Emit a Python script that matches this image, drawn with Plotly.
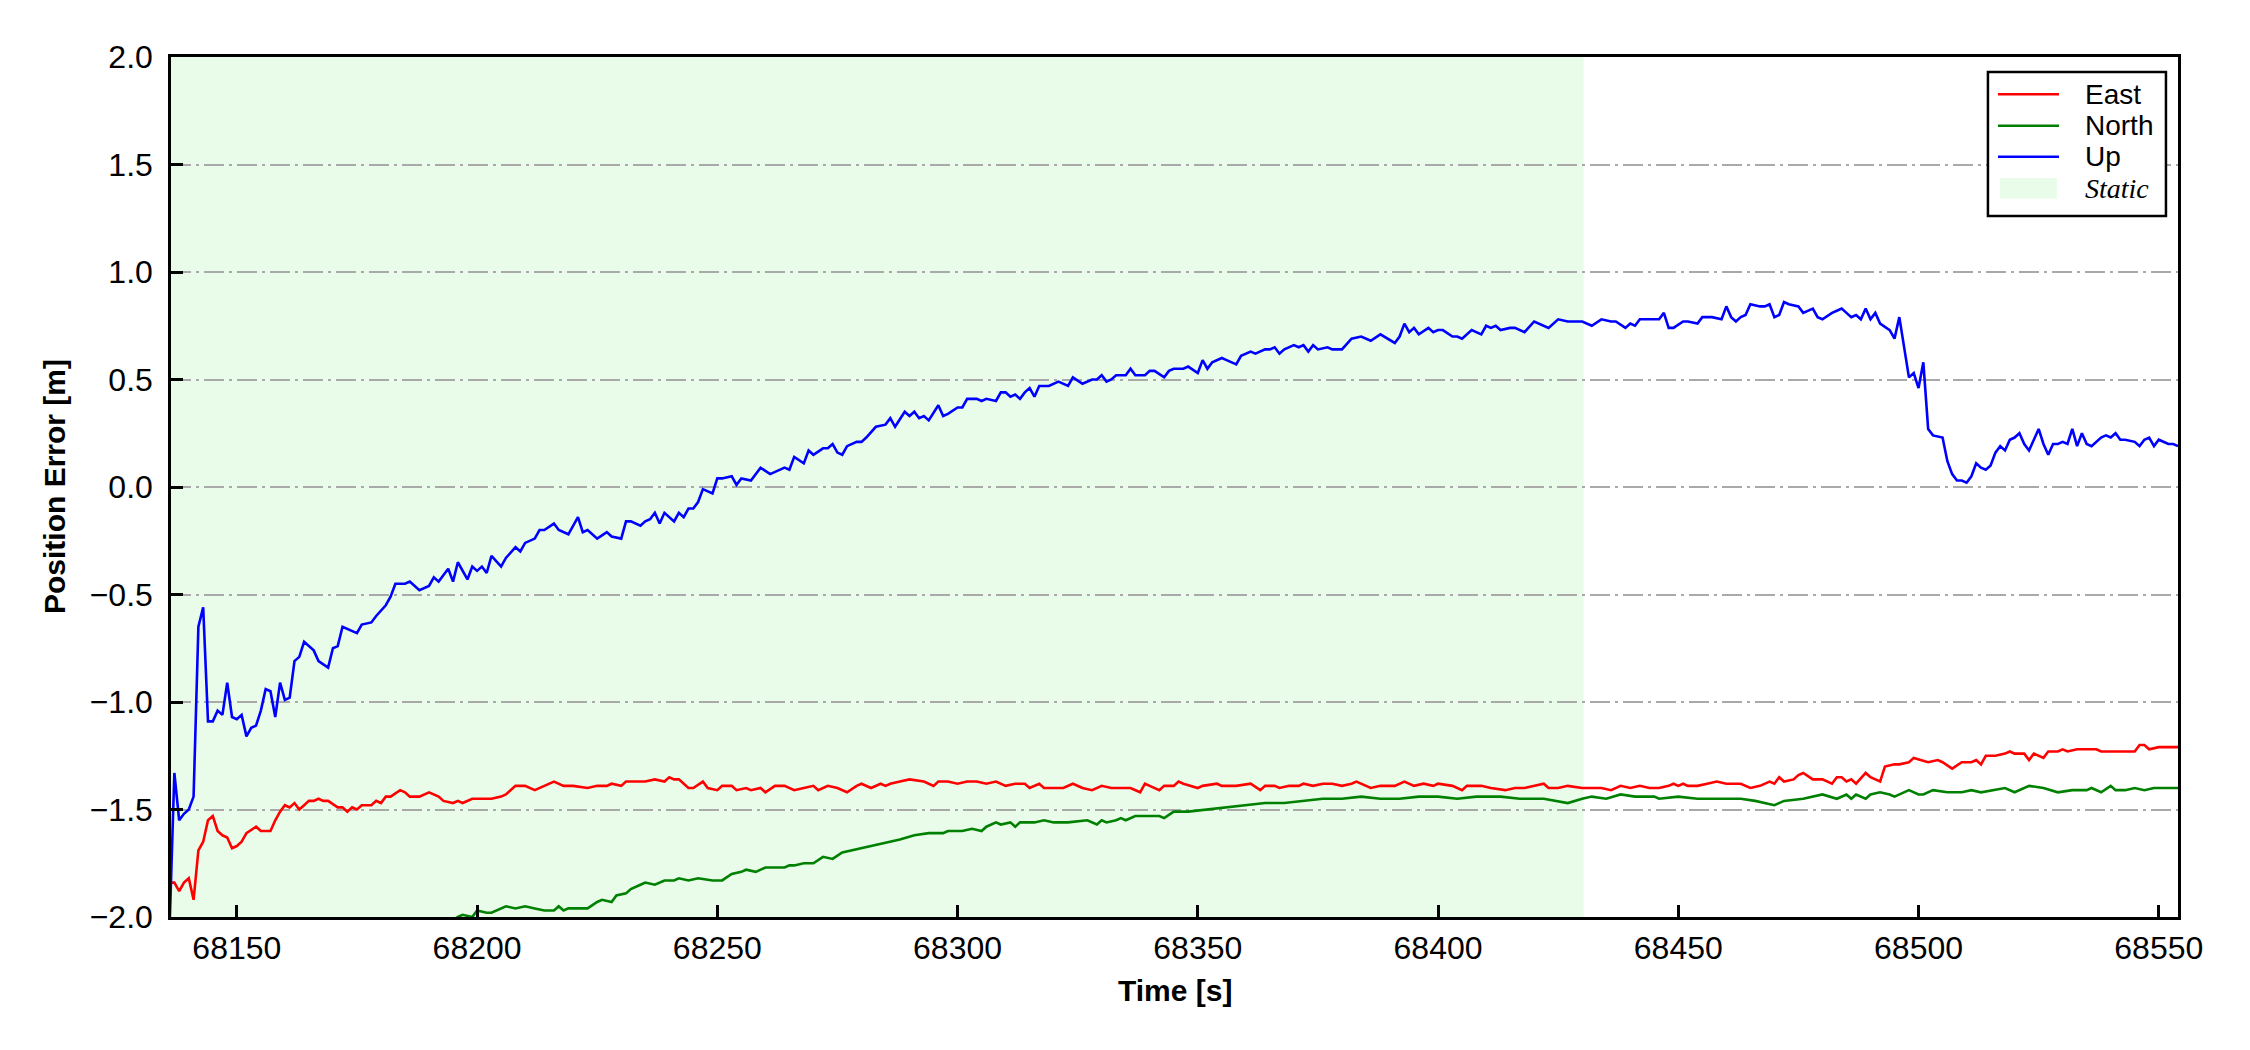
import plotly.graph_objects as go

# ─── Data (time [s], error [m]) ──────────────────────────────────────────────

UP = [
    (68136, -2.05), (68137, -1.33), (68138, -1.55), (68139, -1.52), (68140, -1.50),
    (68141, -1.44), (68142, -0.65), (68143, -0.56), (68144, -1.09), (68145, -1.09),
    (68146, -1.04), (68147, -1.06), (68148, -0.91), (68149, -1.07), (68150, -1.08),
    (68151, -1.06), (68152, -1.16), (68153, -1.12), (68154, -1.11), (68155, -1.04),
    (68156, -0.94), (68157, -0.95), (68158, -1.07), (68159, -0.91), (68160, -0.99),
    (68161, -0.98), (68162, -0.81), (68163, -0.79), (68164, -0.72), (68166, -0.76),
    (68167, -0.81), (68169, -0.84), (68170, -0.75), (68171, -0.74), (68172, -0.65),
    (68173, -0.66), (68175, -0.68), (68176, -0.64), (68178, -0.63), (68179, -0.60),
    (68181, -0.55), (68182, -0.51), (68183, -0.45), (68185, -0.45), (68186, -0.44),
    (68188, -0.48), (68190, -0.46), (68191, -0.42), (68192, -0.44), (68194, -0.38),
    (68195, -0.44), (68196, -0.35), (68198, -0.43), (68199, -0.37), (68200, -0.39),
    (68201, -0.37), (68202, -0.40), (68203, -0.32), (68205, -0.37), (68206, -0.33),
    (68208, -0.28), (68209, -0.30), (68210, -0.26), (68212, -0.24), (68213, -0.20),
    (68214, -0.20), (68216, -0.17), (68217, -0.20), (68219, -0.22), (68221, -0.14),
    (68222, -0.21), (68223, -0.20), (68225, -0.24), (68227, -0.21), (68228, -0.23),
    (68230, -0.24), (68231, -0.16), (68232, -0.16), (68234, -0.18), (68235, -0.16),
    (68236, -0.15), (68237, -0.12), (68238, -0.17), (68239, -0.12), (68241, -0.16),
    (68242, -0.12), (68243, -0.14), (68244, -0.10), (68245, -0.10), (68246, -0.07),
    (68247, -0.01), (68249, -0.03), (68250, 0.04), (68251, 0.04), (68253, 0.05),
    (68254, 0.01), (68255, 0.04), (68257, 0.03), (68259, 0.09), (68261, 0.06),
    (68262, 0.07), (68264, 0.09), (68265, 0.08), (68266, 0.14), (68268, 0.11),
    (68269, 0.17), (68270, 0.15), (68272, 0.18), (68273, 0.18), (68274, 0.20),
    (68275, 0.16), (68276, 0.15), (68277, 0.19), (68279, 0.21), (68280, 0.21),
    (68281, 0.23), (68283, 0.28), (68285, 0.29), (68286, 0.32), (68287, 0.28),
    (68289, 0.35), (68290, 0.33), (68291, 0.35), (68292, 0.32), (68293, 0.33),
    (68294, 0.31), (68296, 0.38), (68297, 0.33), (68298, 0.34), (68300, 0.37),
    (68301, 0.37), (68302, 0.41), (68304, 0.41), (68305, 0.40), (68306, 0.41),
    (68308, 0.40), (68309, 0.44), (68310, 0.44), (68311, 0.42), (68312, 0.43),
    (68313, 0.41), (68314, 0.44), (68315, 0.46), (68316, 0.42), (68317, 0.47),
    (68319, 0.47), (68321, 0.49), (68322, 0.48), (68323, 0.47), (68324, 0.51),
    (68326, 0.48), (68328, 0.50), (68329, 0.50), (68330, 0.52), (68331, 0.49),
    (68332, 0.50), (68333, 0.52), (68335, 0.52), (68336, 0.55), (68337, 0.52),
    (68338, 0.52), (68339, 0.52), (68340, 0.54), (68341, 0.54), (68343, 0.51),
    (68344, 0.54), (68345, 0.55), (68346, 0.55), (68347, 0.55), (68348, 0.56),
    (68350, 0.53), (68351, 0.59), (68352, 0.55), (68353, 0.58), (68355, 0.60),
    (68356, 0.59), (68358, 0.57), (68359, 0.61), (68360, 0.62), (68361, 0.63),
    (68362, 0.62), (68364, 0.64), (68365, 0.64), (68366, 0.65), (68367, 0.62),
    (68368, 0.64), (68370, 0.66), (68371, 0.65), (68372, 0.66), (68373, 0.63),
    (68374, 0.66), (68375, 0.64), (68377, 0.65), (68378, 0.64), (68380, 0.64),
    (68382, 0.69), (68384, 0.70), (68386, 0.68), (68388, 0.71), (68391, 0.67),
    (68392, 0.70), (68393, 0.76), (68394, 0.72), (68395, 0.74), (68396, 0.71),
    (68398, 0.74), (68399, 0.72), (68400, 0.73), (68401, 0.73), (68403, 0.70),
    (68404, 0.70), (68405, 0.69), (68407, 0.73), (68409, 0.71), (68410, 0.75),
    (68411, 0.74), (68412, 0.75), (68413, 0.73), (68415, 0.74), (68416, 0.74),
    (68418, 0.72), (68420, 0.77), (68423, 0.74), (68425, 0.78), (68427, 0.77),
    (68428, 0.77), (68430, 0.77), (68432, 0.75), (68434, 0.78), (68436, 0.77),
    (68437, 0.77), (68439, 0.74), (68440, 0.76), (68441, 0.75), (68442, 0.78),
    (68444, 0.78), (68446, 0.78), (68447, 0.81), (68448, 0.74), (68449, 0.74),
    (68451, 0.77), (68452, 0.77), (68454, 0.76), (68455, 0.79), (68457, 0.79),
    (68459, 0.78), (68460, 0.84), (68461, 0.79), (68462, 0.77), (68463, 0.79),
    (68464, 0.80), (68465, 0.85), (68467, 0.84), (68468, 0.84), (68469, 0.85),
    (68470, 0.79), (68471, 0.80), (68472, 0.86), (68473, 0.85), (68475, 0.84),
    (68476, 0.81), (68478, 0.83), (68479, 0.79), (68480, 0.78), (68482, 0.81),
    (68483, 0.82), (68484, 0.83), (68485, 0.81), (68486, 0.79), (68487, 0.80),
    (68488, 0.78), (68489, 0.83), (68490, 0.78), (68491, 0.81), (68492, 0.76),
    (68494, 0.73), (68495, 0.69), (68496, 0.79), (68497, 0.65), (68498, 0.51),
    (68499, 0.53), (68500, 0.46), (68501, 0.58), (68502, 0.27), (68503, 0.24),
    (68505, 0.23), (68506, 0.12), (68507, 0.06), (68508, 0.03), (68509, 0.03),
    (68510, 0.02), (68511, 0.05), (68512, 0.11), (68513, 0.09), (68514, 0.08),
    (68515, 0.10), (68516, 0.16), (68517, 0.19), (68518, 0.17), (68519, 0.22),
    (68520, 0.23), (68521, 0.25), (68522, 0.20), (68523, 0.17), (68524, 0.22),
    (68525, 0.27), (68526, 0.20), (68527, 0.15), (68528, 0.20), (68529, 0.20),
    (68530, 0.21), (68531, 0.20), (68532, 0.27), (68533, 0.19), (68534, 0.25),
    (68535, 0.20), (68536, 0.19), (68538, 0.23), (68539, 0.24), (68540, 0.23),
    (68541, 0.25), (68542, 0.22), (68543, 0.22), (68545, 0.21), (68546, 0.19),
    (68547, 0.22), (68548, 0.23), (68549, 0.19), (68550, 0.22), (68552, 0.20),
    (68553, 0.20), (68554, 0.19),
]

EAST = [
    (68136, -1.84), (68137, -1.84), (68138, -1.88), (68139, -1.84), (68140, -1.82),
    (68141, -1.92), (68142, -1.69), (68143, -1.65), (68144, -1.55), (68145, -1.53),
    (68146, -1.60), (68147, -1.62), (68148, -1.63), (68149, -1.68), (68150, -1.67),
    (68151, -1.65), (68152, -1.61), (68154, -1.58), (68155, -1.60), (68157, -1.60),
    (68158, -1.55), (68159, -1.51), (68160, -1.48), (68161, -1.49), (68162, -1.47),
    (68163, -1.50), (68164, -1.48), (68165, -1.46), (68166, -1.46), (68167, -1.45),
    (68168, -1.46), (68169, -1.46), (68171, -1.49), (68172, -1.49), (68173, -1.51),
    (68174, -1.49), (68175, -1.50), (68176, -1.48), (68178, -1.48), (68179, -1.46),
    (68180, -1.47), (68181, -1.44), (68182, -1.44), (68184, -1.41), (68185, -1.42),
    (68186, -1.44), (68188, -1.44), (68190, -1.42), (68192, -1.44), (68193, -1.46),
    (68195, -1.47), (68196, -1.46), (68197, -1.47), (68199, -1.45), (68202, -1.45),
    (68203, -1.45), (68205, -1.44), (68206, -1.43), (68208, -1.39), (68210, -1.39),
    (68212, -1.41), (68214, -1.39), (68216, -1.37), (68218, -1.39), (68220, -1.39),
    (68223, -1.40), (68225, -1.39), (68227, -1.39), (68228, -1.38), (68230, -1.39),
    (68231, -1.37), (68232, -1.37), (68235, -1.37), (68237, -1.36), (68239, -1.37),
    (68240, -1.35), (68241, -1.36), (68242, -1.36), (68244, -1.40), (68245, -1.40),
    (68247, -1.37), (68248, -1.40), (68250, -1.41), (68251, -1.39), (68253, -1.39),
    (68254, -1.41), (68256, -1.40), (68257, -1.41), (68259, -1.40), (68260, -1.42),
    (68262, -1.39), (68264, -1.39), (68266, -1.41), (68268, -1.40), (68270, -1.39),
    (68271, -1.41), (68273, -1.39), (68275, -1.40), (68276, -1.41), (68277, -1.42),
    (68279, -1.39), (68280, -1.38), (68282, -1.40), (68284, -1.38), (68285, -1.39),
    (68286, -1.38), (68288, -1.37), (68290, -1.36), (68293, -1.37), (68295, -1.39),
    (68296, -1.37), (68298, -1.37), (68300, -1.38), (68302, -1.37), (68304, -1.37),
    (68306, -1.38), (68308, -1.37), (68310, -1.39), (68312, -1.38), (68314, -1.38),
    (68315, -1.40), (68317, -1.38), (68318, -1.40), (68320, -1.40), (68322, -1.40),
    (68324, -1.38), (68326, -1.40), (68328, -1.41), (68330, -1.39), (68332, -1.40),
    (68334, -1.40), (68336, -1.40), (68338, -1.42), (68339, -1.38), (68340, -1.39),
    (68342, -1.41), (68343, -1.39), (68345, -1.39), (68346, -1.37), (68347, -1.38),
    (68350, -1.40), (68351, -1.39), (68354, -1.38), (68355, -1.39), (68358, -1.39),
    (68361, -1.38), (68363, -1.41), (68364, -1.39), (68366, -1.39), (68367, -1.40),
    (68369, -1.39), (68371, -1.39), (68372, -1.38), (68374, -1.39), (68376, -1.38),
    (68378, -1.38), (68380, -1.39), (68382, -1.38), (68383, -1.37), (68386, -1.40),
    (68388, -1.39), (68391, -1.39), (68393, -1.37), (68395, -1.39), (68397, -1.38),
    (68399, -1.39), (68400, -1.38), (68403, -1.39), (68405, -1.41), (68406, -1.39),
    (68409, -1.39), (68411, -1.40), (68414, -1.41), (68416, -1.40), (68418, -1.40),
    (68420, -1.39), (68422, -1.38), (68423, -1.40), (68425, -1.40), (68427, -1.39),
    (68430, -1.40), (68432, -1.40), (68434, -1.40), (68436, -1.41), (68438, -1.39),
    (68440, -1.40), (68442, -1.39), (68444, -1.40), (68446, -1.40), (68448, -1.39),
    (68449, -1.38), (68450, -1.39), (68451, -1.38), (68452, -1.39), (68454, -1.39),
    (68456, -1.38), (68458, -1.37), (68460, -1.38), (68463, -1.38), (68465, -1.40),
    (68467, -1.39), (68469, -1.37), (68470, -1.38), (68471, -1.35), (68472, -1.37),
    (68474, -1.36), (68475, -1.34), (68476, -1.33), (68478, -1.36), (68480, -1.36),
    (68482, -1.38), (68483, -1.35), (68484, -1.35), (68485, -1.37), (68486, -1.36),
    (68487, -1.38), (68489, -1.33), (68490, -1.35), (68491, -1.36), (68492, -1.37),
    (68493, -1.30), (68495, -1.29), (68496, -1.29), (68498, -1.28), (68499, -1.26),
    (68502, -1.28), (68504, -1.27), (68505, -1.28), (68507, -1.31), (68509, -1.28),
    (68511, -1.28), (68512, -1.27), (68513, -1.29), (68514, -1.25), (68516, -1.25),
    (68518, -1.24), (68519, -1.23), (68520, -1.24), (68522, -1.24), (68523, -1.27),
    (68524, -1.24), (68526, -1.26), (68527, -1.23), (68529, -1.23), (68530, -1.22),
    (68531, -1.23), (68533, -1.22), (68535, -1.22), (68537, -1.22), (68538, -1.23),
    (68540, -1.23), (68542, -1.23), (68545, -1.23), (68546, -1.20), (68547, -1.20),
    (68548, -1.22), (68550, -1.21), (68552, -1.21), (68554, -1.21),
]

NORTH = [
    (68194, -2.03), (68196, -2.00), (68197, -1.99), (68199, -2.00), (68200, -1.97),
    (68202, -1.98), (68203, -1.98), (68204, -1.97), (68206, -1.95), (68208, -1.96),
    (68210, -1.95), (68212, -1.96), (68214, -1.97), (68216, -1.97), (68217, -1.95),
    (68218, -1.97), (68219, -1.96), (68221, -1.96), (68223, -1.96), (68225, -1.93),
    (68226, -1.92), (68228, -1.93), (68229, -1.90), (68231, -1.89), (68232, -1.87),
    (68234, -1.85), (68235, -1.84), (68237, -1.85), (68239, -1.83), (68241, -1.83),
    (68242, -1.82), (68244, -1.83), (68246, -1.82), (68249, -1.83), (68251, -1.83),
    (68253, -1.80), (68255, -1.79), (68256, -1.78), (68258, -1.79), (68260, -1.77),
    (68262, -1.77), (68264, -1.77), (68265, -1.76), (68266, -1.76), (68268, -1.75),
    (68270, -1.75), (68272, -1.72), (68274, -1.73), (68276, -1.70), (68278, -1.69),
    (68280, -1.68), (68282, -1.67), (68284, -1.66), (68286, -1.65), (68288, -1.64),
    (68291, -1.62), (68294, -1.61), (68297, -1.61), (68298, -1.60), (68301, -1.60),
    (68303, -1.59), (68305, -1.60), (68306, -1.58), (68308, -1.56), (68309, -1.57),
    (68311, -1.56), (68312, -1.58), (68313, -1.56), (68316, -1.56), (68318, -1.55),
    (68320, -1.56), (68323, -1.56), (68326, -1.55), (68327, -1.55), (68329, -1.57),
    (68330, -1.55), (68331, -1.56), (68333, -1.55), (68334, -1.54), (68335, -1.55),
    (68337, -1.53), (68338, -1.53), (68340, -1.53), (68342, -1.53), (68343, -1.54),
    (68345, -1.51), (68348, -1.51), (68352, -1.50), (68356, -1.49), (68360, -1.48),
    (68364, -1.47), (68368, -1.47), (68372, -1.46), (68376, -1.45), (68380, -1.45),
    (68384, -1.44), (68388, -1.45), (68392, -1.45), (68396, -1.44), (68400, -1.44),
    (68404, -1.45), (68408, -1.44), (68413, -1.44), (68417, -1.45), (68422, -1.45),
    (68427, -1.47), (68430, -1.45), (68432, -1.44), (68435, -1.45), (68438, -1.43),
    (68441, -1.44), (68445, -1.44), (68446, -1.45), (68450, -1.44), (68454, -1.45),
    (68458, -1.45), (68459, -1.45), (68463, -1.45), (68466, -1.46), (68468, -1.47),
    (68470, -1.48), (68472, -1.46), (68476, -1.45), (68480, -1.43), (68483, -1.45),
    (68485, -1.43), (68486, -1.45), (68487, -1.43), (68489, -1.45), (68490, -1.43),
    (68492, -1.42), (68494, -1.43), (68495, -1.44), (68498, -1.41), (68500, -1.43),
    (68501, -1.43), (68503, -1.41), (68506, -1.42), (68509, -1.42), (68511, -1.41),
    (68513, -1.42), (68518, -1.40), (68520, -1.42), (68523, -1.39), (68526, -1.40),
    (68529, -1.42), (68532, -1.41), (68535, -1.41), (68536, -1.40), (68538, -1.42),
    (68540, -1.39), (68541, -1.41), (68543, -1.41), (68545, -1.40), (68547, -1.41),
    (68549, -1.40), (68552, -1.40), (68554, -1.40),
]

STATIC_SPAN = (68136.3, 68430.3)
X_RANGE = [68136.3, 68554.0]
Y_RANGE = [-2.0, 2.0]
X_TICKS = [68150, 68200, 68250, 68300, 68350, 68400, 68450, 68500, 68550]
Y_TICKS = [2.0, 1.5, 1.0, 0.5, 0.0, -0.5, -1.0, -1.5, -2.0]

FONT = "Liberation Sans, Arial, sans-serif"
SERIF = "Liberation Serif, Times New Roman, serif"
STATIC_FILL = "rgba(144,238,144,0.2)"
SERIES = [("East", EAST, "#ff0000"), ("North", NORTH, "#008000"), ("Up", UP, "#0000ff")]

fig = go.Figure()

for name, pts, color in SERIES:
    fig.add_trace(go.Scatter(
        x=[p[0] for p in pts], y=[p[1] for p in pts],
        mode="lines", name=name,
        line=dict(color=color, width=2.6),
    ))

fig.add_vrect(x0=STATIC_SPAN[0], x1=STATIC_SPAN[1], fillcolor=STATIC_FILL,
              line_width=0, layer="below")

# ── hand-made legend box (paper coords), matplotlib style
LEG_X0, LEG_X1, LEG_Y0, LEG_Y1 = 0.9053, 0.9940, 0.8151, 0.9826
ROW_Y = [0.9566, 0.9201, 0.8840, 0.8473]
fig.add_shape(type="rect", xref="paper", yref="paper",
              x0=LEG_X0, x1=LEG_X1, y0=LEG_Y0, y1=LEG_Y1,
              fillcolor="white", line=dict(color="black", width=2.5), layer="above")
legend_notes = []
for (name, _, color), ry in zip(SERIES, ROW_Y):
    fig.add_shape(type="line", xref="paper", yref="paper",
                  x0=0.9103, x1=0.9407, y0=ry, y1=ry,
                  line=dict(color=color, width=2.6), layer="above")
    legend_notes.append(dict(text=name, x=0.9527, y=ry, xref="paper", yref="paper",
                             xanchor="left", yanchor="middle", showarrow=False,
                             font=dict(size=28)))
fig.add_shape(type="rect", xref="paper", yref="paper",
              x0=0.9113, x1=0.9397, y0=ROW_Y[3] - 0.012, y1=ROW_Y[3] + 0.012,
              fillcolor=STATIC_FILL, line_width=0, layer="above")
legend_notes.append(dict(text="<i>Static</i>", x=0.9527, y=ROW_Y[3], xref="paper", yref="paper",
                         xanchor="left", yanchor="middle", showarrow=False,
                         font=dict(size=28, family=SERIF)))

fig.update_layout(
    width=2250, height=1050,
    paper_bgcolor="white", plot_bgcolor="white",
    margin=dict(l=163, r=80, t=49, b=141),
    font=dict(family=FONT, size=32, color="black"),
    showlegend=False,
    annotations=[
        dict(text="<b>Time [s]</b>", x=0.5, y=0, xref="paper", yref="paper",
             xanchor="center", yanchor="middle", yshift=-73, showarrow=False,
             font=dict(size=30)),
        dict(text="<b>Position Error [m]</b>", x=0, y=0.5, xref="paper", yref="paper",
             xanchor="center", yanchor="middle", xshift=-117, textangle=-90,
             showarrow=False, font=dict(size=30)),
    ] + legend_notes,
)

fig.update_xaxes(
    range=X_RANGE, tickvals=X_TICKS, tickformat="d",
    showgrid=False, zeroline=False,
    showline=True, linecolor="black", linewidth=2.5, mirror=True,
    ticks="inside", ticklen=12, tickwidth=2.5, tickcolor="black",
    ticklabelstandoff=1,
)
fig.update_yaxes(
    range=Y_RANGE, tickvals=Y_TICKS, tickformat=".1f",
    showgrid=True, gridcolor="#a9a9a9", gridwidth=2, griddash="20px,5px,3px,5px",
    zeroline=False,
    showline=True, linecolor="black", linewidth=2.5, mirror=True,
    ticks="inside", ticklen=12, tickwidth=2.5, tickcolor="black",
    ticklabelstandoff=9,
)

fig.write_html("out.html")
